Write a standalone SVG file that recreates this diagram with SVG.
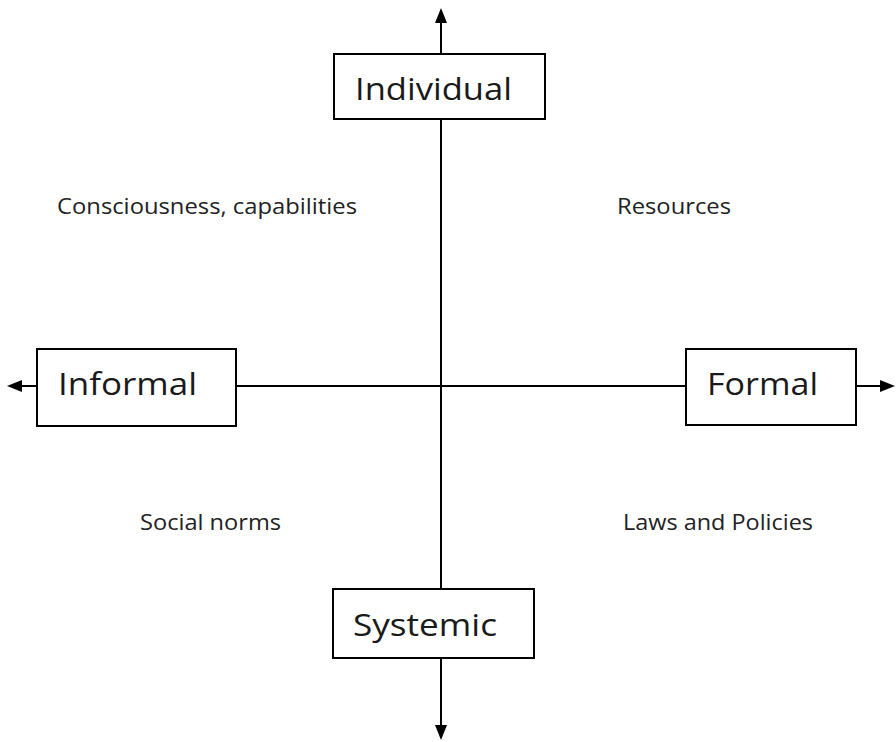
<svg xmlns="http://www.w3.org/2000/svg" width="896" height="742" viewBox="0 0 896 742">
<style>
.box{fill:#fff;stroke:#000;stroke-width:2}
.ax{stroke:#000;stroke-width:2;fill:none}
.head{fill:#000}
.big{font-family:"Open Sans","Liberation Sans",sans-serif;font-size:31px;fill:#1a1a1a}
.sm{font-family:"Open Sans","Liberation Sans",sans-serif;font-size:21px;fill:#222}
</style>
<rect width="896" height="742" fill="#fff"/>
<g id="connectors">
<line class="ax" x1="441" y1="386" x2="441" y2="22"/>
<path class="head" d="M435,23 L441,8 L447,23 z"/>
<line class="ax" x1="441" y1="386" x2="441" y2="725"/>
<path class="head" d="M435,725 L441,740 L447,725 z"/>
<line class="ax" x1="21" y1="386" x2="880" y2="386"/>
<path class="head" d="M22,380 L7,386 L22,392 z"/>
<path class="head" d="M880,380 L895,386 L880,392 z"/>
</g>
<g id="individual">
<rect class="box" x="334" y="54" width="211" height="65"/>
<text class="big" x="355" y="100" textLength="157" lengthAdjust="spacingAndGlyphs">Individual</text>
</g>
<g id="informal">
<rect class="box" x="37" y="349" width="199" height="77"/>
<text class="big" x="58" y="395" textLength="139" lengthAdjust="spacingAndGlyphs">Informal</text>
</g>
<g id="formal">
<rect class="box" x="686" y="349" width="170" height="76"/>
<text class="big" x="707" y="395" textLength="111" lengthAdjust="spacingAndGlyphs">Formal</text>
</g>
<g id="systemic">
<rect class="box" x="333" y="589" width="201" height="69"/>
<text class="big" x="353" y="636" textLength="144" lengthAdjust="spacingAndGlyphs">Systemic</text>
</g>
<g id="labels">
<text class="sm" x="57" y="214" textLength="300" lengthAdjust="spacingAndGlyphs">Consciousness, capabilities</text>
<text class="sm" x="617" y="214" textLength="114" lengthAdjust="spacingAndGlyphs">Resources</text>
<text class="sm" x="140" y="530" textLength="141" lengthAdjust="spacingAndGlyphs">Social norms</text>
<text class="sm" x="623" y="530" textLength="190" lengthAdjust="spacingAndGlyphs">Laws and Policies</text>
</g>
</svg>
